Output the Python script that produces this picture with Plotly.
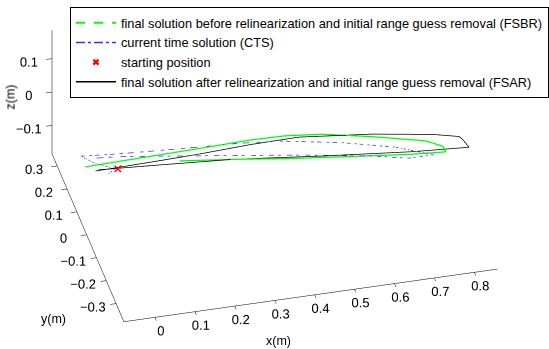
import plotly.graph_objects as go

# ---- data (metres) ----
fsbr_x = [-0.075, 0.060, 0.213, 0.341, 0.426, 0.514, 0.632, 0.755, 0.790, 0.792, 0.711, 0.566, 0.420, 0.299, 0.154]
fsbr_y = [0.026, 0.028, 0.030, 0.034, 0.031, 0.018, -0.020, -0.067, -0.098, -0.121, -0.110, -0.083, -0.056, -0.031, -0.004]
fsbr_z = [0.000, 0.002, 0.004, 0.005, 0.005, 0.004, 0.003, 0.002, 0.001, 0.000, -0.001, -0.002, -0.002, -0.001, 0.000]

cts_x = [-0.027, -0.007, -0.052, -0.075, 0.016, 0.179, 0.314, 0.412, 0.554, 0.674, 0.761, 0.698, 0.614, 0.459, 0.255, 0.022, -0.059]
cts_y = [-0.017, 0.001, 0.038, 0.070, 0.056, 0.039, 0.028, 0.013, -0.027, -0.074, -0.126, -0.124, -0.094, -0.052, -0.006, 0.046, 0.057]
cts_z = [0.000, 0.000, 0.001, 0.002, 0.003, 0.004, 0.004, 0.004, 0.003, 0.002, 0.000, -0.001, -0.001, -0.001, 0.000, 0.001, 0.001]

start_x = [0.0]
start_y = [0.0]
start_z = [0.0]

fsar_x = [-0.055, 0.080, 0.208, 0.337, 0.459, 0.634, 0.778, 0.838, 0.844, 0.851, 0.713, 0.494, 0.288, 0.102, -0.047]
fsar_y = [0.003, 0.006, 0.010, 0.018, 0.019, -0.011, -0.046, -0.070, -0.085, -0.117, -0.101, -0.065, -0.028, -0.009, 0.006]
fsar_z = [0.000, 0.001, 0.002, 0.003, 0.004, 0.004, 0.003, 0.003, 0.002, 0.001, 0.000, -0.001, -0.001, 0.000, 0.000]

x_ticks = [0, 0.1, 0.2, 0.3, 0.4, 0.5, 0.6, 0.7, 0.8]
y_ticks = [-0.3, -0.2, -0.1, 0, 0.1, 0.2, 0.3]
z_ticks = [-0.1, 0, 0.1]
x_labels = ["0", "0.1", "0.2", "0.3", "0.4", "0.5", "0.6", "0.7", "0.8"]
y_labels = ["\u22120.3", "\u22120.2", "\u22120.1", "0", "0.1", "0.2", "0.3"]
z_labels = ["\u22120.1", "0", "0.1"]

names = ["final solution before relinearization and initial range guess removal (FSBR)",
         "current time solution (CTS)",
         "starting position",
         "final solution after relinearization and initial range guess removal (FSAR)"]

FONT = "Liberation Sans, Arial, Helvetica, sans-serif"
FS = 12.5
GREEN = "rgb(0,255,0)"
BLUE = "rgb(50,50,255)"
NONE = [None]

fig = go.Figure()
# plotted marks (legend handled by proxy entries below where styling differs)
fig.add_trace(go.Scatter3d(x=fsbr_x, y=fsbr_y, z=fsbr_z, mode="lines",
    line=dict(color=GREEN, width=2.5), showlegend=False, name=names[0]))
fig.add_trace(go.Scatter3d(x=NONE, y=NONE, z=NONE, mode="lines",
    line=dict(color=GREEN, width=2, dash="dash"), name=names[0]))
fig.add_trace(go.Scatter3d(x=cts_x, y=cts_y, z=cts_z, mode="lines",
    line=dict(color=BLUE, width=1.5, dash="dashdot"), name=names[1]))
fig.add_trace(go.Scatter3d(x=start_x, y=start_y, z=start_z, mode="markers",
    marker=dict(color="red", size=1.6, symbol="x"), showlegend=False, name=names[2]))
fig.add_trace(go.Scatter3d(x=NONE, y=NONE, z=NONE, mode="markers",
    marker=dict(color="red", size=6, symbol="x"), name=names[2]))
fig.add_trace(go.Scatter3d(x=fsar_x, y=fsar_y, z=fsar_z, mode="lines",
    line=dict(color="black", width=1.5), name=names[3]))

def ax(rng, tv, tt):
    return dict(range=rng, tickvals=tv, ticktext=tt, autorange=False,
                title=dict(text=""),
                showbackground=False, showgrid=False, zeroline=False,
                showline=True, linecolor="black", linewidth=1,
                ticks="outside", tickcolor="black", ticklen=6, tickangle=0,
                showspikes=False, mirror=False,
                tickfont=dict(size=FS, family=FONT, color="black"))

d = (-0.1953, -0.7953, 0.574)
dist = 2.0
k = 2.205
c = (-0.1238, -0.0537, -0.1166)
lab = dict(size=FS, family=FONT, color="black")
fig.update_layout(
    width=549, height=349,
    margin=dict(l=0, r=0, t=0, b=0),
    paper_bgcolor="white",
    font=dict(family=FONT, size=FS, color="black"),
    scene=dict(
        domain=dict(x=[0, 0.974], y=[0, 1]),
        xaxis=ax([-0.078, 0.858], x_ticks, x_labels),
        yaxis=ax([-0.379, 0.353], y_ticks, y_labels),
        zaxis=ax([-0.185, 0.185], z_ticks, z_labels),
        aspectmode="manual",
        aspectratio=dict(x=1*k, y=0.783*k, z=0.392*k),
        camera=dict(eye=dict(x=c[0]+d[0]*dist, y=c[1]+d[1]*dist, z=c[2]+d[2]*dist),
                    up=dict(x=0, y=0, z=1), center=dict(x=c[0], y=c[1], z=c[2]),
                    projection=dict(type="orthographic")),
        bgcolor="white",
    ),
    legend=dict(x=0.133, y=0.98, xanchor="left", yanchor="top",
                bordercolor="black", borderwidth=1, bgcolor="white",
                font=dict(size=12.8, family=FONT, color="black"),
                tracegroupgap=0, itemwidth=40),
    showlegend=True,
    annotations=[
        dict(text="z(m)", x=11/549, y=1-97/349, xref="paper", yref="paper",
             xanchor="center", yanchor="middle",
             showarrow=False, textangle=-90, font=lab),
        dict(text="y(m)", x=56/549, y=1-319/349, xref="paper", yref="paper",
             xanchor="center", yanchor="middle", showarrow=False, font=lab),
        dict(text="x(m)", x=291/549, y=1-341/349, xref="paper", yref="paper",
             xanchor="center", yanchor="middle", showarrow=False, font=lab),
    ],
)
fig.write_html("out.html")
